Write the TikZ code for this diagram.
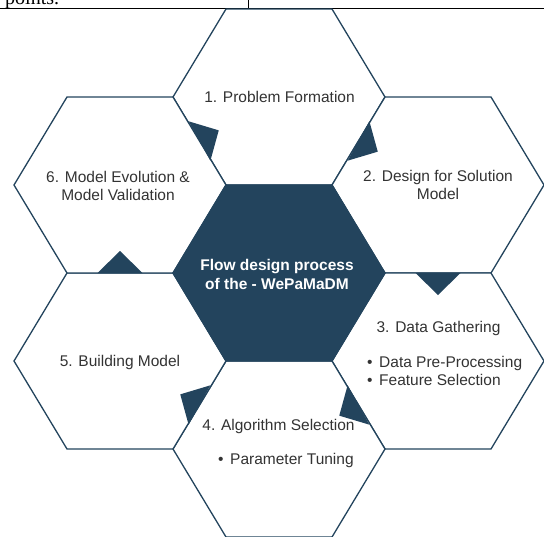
\documentclass[tikz,border=0pt]{standalone}
\usepackage{fontspec}
\setmainfont{Liberation Sans}
\newfontfamily\docserif{Liberation Serif}
\usetikzlibrary{calc}
\definecolor{navy}{HTML}{23445D}
\definecolor{labelgray}{HTML}{333333}
\tikzset{
    hexcell/.style={draw=navy,line width=1.3pt,fill=white,line join=miter},
    hubcell/.style={hexcell,fill=navy},
    steplabel/.style={text=labelgray,align=center,inner sep=0pt,font=\fontsize{15.5}{18.5}\selectfont},
    hublabel/.style={steplabel,text=white,font=\fontsize{15.5}{19}\selectfont\bfseries},
    flowtip/.style={fill=navy,draw=none},
}
% one flat-topped cell around a named centre
\newcommand{\hexat}[2]{\draw[#1] (#2) ++(-106,0) -- ++(53,88) -- ++(106,0) -- ++(53,-88) -- ++(-53,-88) -- ++(-106,0) -- cycle;}
\begin{document}
\begin{tikzpicture}[x=1pt,y=-1pt]
    \useasboundingbox (0,0) rectangle (544,536);
    \clip (0,0) rectangle (544,536);
    % end of the table above the figure
    \node[anchor=base west,inner sep=0pt,font=\docserif\fontsize{20}{24}\selectfont] (doctext) at (5,4.5) {points.};
    \draw[line width=1.5pt] (0,8.5) -- (544,8.5);
    \draw[line width=1pt] (248.5,0) -- (248.5,8.5);
    % cell centres
    \coordinate (hub) at (279,273);
    \coordinate (p1) at (279,97);
    \coordinate (p2) at (438,185);
    \coordinate (p3) at (438,361);
    \coordinate (p4) at (279,449);
    \coordinate (p5) at (120,361);
    \coordinate (p6) at (120,185);
    \foreach \c in {p1,p2,p3,p4,p5,p6} {\hexat{hexcell}{\c}}
    \hexat{hubcell}{hub}
    % flow between the cells
    \foreach \a/\b in {p1/p2,p2/p3,p3/p4,p4/p5,p5/p6,p6/p1} {
        \path ($(\a)!0.5!(\b)$) coordinate (m);
        \fill[flowtip] ($(m)!22.5pt!90:(\b)$) -- ($(m)!22pt!(\b)$) -- ($(m)!22.5pt!-90:(\b)$) -- cycle;
    }
    \node[hublabel] (hubtext) at (277,274.5) {Flow design process\\of the - WePaMaDM};
    \node[steplabel] (t1) at (279.5,97) {1. Problem Formation};
    \node[steplabel] (t2) at (438,185) {2. Design for Solution\\Model};
    \node[steplabel] (t3) at (438.5,328) {3. Data Gathering};
    \node[steplabel,align=left,anchor=west] (t3list) at (367,371)
        {\makebox[12pt][l]{\textbullet}Data Pre-Processing\\\makebox[12pt][l]{\textbullet}Feature Selection};
    \node[steplabel] (t4) at (278.5,426) {4. Algorithm Selection};
    \node[steplabel,anchor=west] (t4list) at (218,460) {\makebox[12pt][l]{\textbullet}Parameter Tuning};
    \node[steplabel] (t5) at (120,362) {5. Building Model};
    \node[steplabel] (t6) at (118,186) {6. Model Evolution \&\\Model Validation};
\end{tikzpicture}
\end{document}
